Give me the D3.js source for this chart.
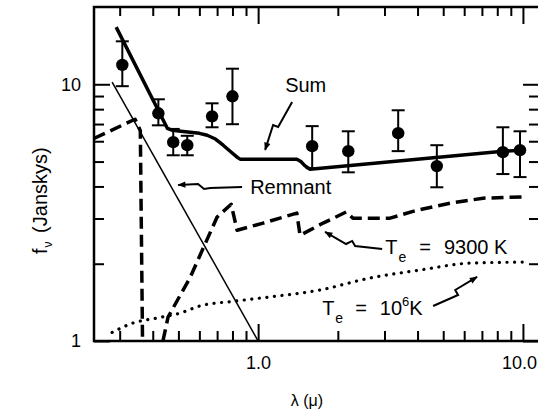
<!DOCTYPE html>
<html>
<head>
<meta charset="utf-8">
<script src="https://cdn.jsdelivr.net/npm/d3@7"></script>
<style>
  html, body { margin: 0; padding: 0; background: #fff; }
  svg { display: block; }
  text { font-family: "Liberation Sans", Arial, Helvetica, sans-serif; fill: #000; }
</style>
</head>
<body>
<svg id="chart" width="538" height="415"></svg>
<script>
// Observed flux densities (wavelength in microns, flux in Janskys) with error bars
const wavelength = [0.307, 0.42, 0.478, 0.54, 0.67, 0.80, 1.6, 2.19, 3.38, 4.73, 8.4, 9.75];
const flux       = [11.9, 7.71, 5.95, 5.79, 7.5, 8.98, 5.74, 5.49, 6.45, 4.80, 5.44, 5.54];
const fluxLow    = [9.83, 6.92, 5.29, 5.29, 6.8, 6.99, 4.71, 4.54, 5.49, 3.97, 4.47, 4.35];
const fluxHigh   = [14.7, 8.74, 6.7, 6.3, 8.43, 11.5, 6.87, 6.56, 7.92, 5.79, 6.8, 6.56];

// Model components: [wavelength, flux]
const sumModel = [[0.291, 16.7], [0.454, 6.74], [0.470, 6.64], [0.500, 6.57], [0.554, 6.50],
  [0.600, 6.44], [0.642, 6.33], [0.690, 6.12], [0.738, 5.79], [0.790, 5.45], [0.833, 5.20],
  [0.855, 5.11], [1.40, 5.11], [1.45, 5.0], [1.50, 4.82], [1.57, 4.67],
  [8.41, 5.49], [10.0, 5.54]];
const remnantModel = [[0.281, 10.2], [1.0, 1.0]];
const hot9300Blue = [[0.24, 6.15], [0.343, 7.31], [0.359, 6.6], [0.366, 1.0]];
const hot9300Red = [[0.437, 1.0], [0.457, 1.24], [0.554, 1.77], [0.700, 3.04], [0.791, 3.41],
  [0.833, 2.70], [1.045, 2.88], [1.40, 3.15], [1.44, 2.58], [1.76, 2.88], [2.15, 3.18],
  [2.28, 3.01], [3.15, 3.01], [3.98, 3.23], [5.30, 3.44], [7.07, 3.60], [9.92, 3.64]];
const hot1e6 = [[0.281, 1.08], [0.337, 1.175], [0.416, 1.23], [0.508, 1.285], [0.604, 1.37],
  [0.819, 1.43], [1.08, 1.48], [1.71, 1.58], [2.65, 1.76], [4.09, 1.89], [6.31, 2.01], [10.0, 2.03]];

// Axis ticks
const xMajorTicks = [1, 10];
const xTickLabels = ["1.0", "10.0"];
const xMinorTicks = [0.3, 0.4, 0.5, 0.6, 0.7, 0.8, 0.9, 2, 3, 4, 5, 6, 7, 8, 9];
const yMajorTicks = [1, 10];
const yTickLabels = ["1", "10"];
const yMinorTicks = [2, 3, 4, 5, 6, 7, 8, 9];

// Annotation callouts (data coordinates): label anchor and zig-zag pointer ending at the tip
const sumLabelAt = [1.265, 9.33];
const sumPointer = [[1.344, 8.53], [1.190, 6.82], [1.139, 6.94], [1.063, 5.55]];
const remnantLabelAt = [0.933, 3.74];
const remnantPointer = [[0.870, 3.98], [0.659, 3.945], [0.625, 3.91], [0.593, 4.09], [0.499, 4.05]];
const label9300At = [3.02, 2.18];
const pointer9300 = [[2.94, 2.283], [2.325, 2.345], [2.265, 2.453], [2.149, 2.387], [1.79, 2.66]];
const label1e6At = [1.745, 1.263];
const pointer1e6 = [[4.58, 1.369], [5.69, 1.511], [5.55, 1.58], [6.71, 1.776]];

const svg = d3.select("#chart");
const frameLeft = 94, frameRight = 540, frameTop = 7, frameBottom = 341;

const x = d3.scaleLog().domain([0.24, 11.6]).range([frameLeft, frameRight]);
const y = d3.scaleLog().domain([1, 20]).range([frameBottom, frameTop]);

const defs = svg.append("defs");
defs.append("clipPath").attr("id", "plotClip")
  .append("rect").attr("x", frameLeft).attr("y", frameTop)
  .attr("width", frameRight - frameLeft).attr("height", frameBottom - frameTop);

const marker = defs.append("marker")
  .attr("id", "arrowHead").attr("viewBox", "0 0 10 10")
  .attr("refX", 9).attr("refY", 5)
  .attr("markerWidth", 10).attr("markerHeight", 8)
  .attr("markerUnits", "userSpaceOnUse")
  .attr("orient", "auto");
marker.append("path").attr("d", "M0,1 L10,5 L0,9 Z").attr("fill", "#000");

// Frame
svg.append("path")
  .attr("d", `M${frameRight},${frameTop} H${frameLeft} V${frameBottom} H${frameRight}`)
  .attr("fill", "none").attr("stroke", "#000").attr("stroke-width", 2.5);

function styleAxis(g) {
  g.select(".domain").remove();
  g.selectAll(".tick line").attr("stroke", "#000").attr("stroke-width", 2);
  g.selectAll(".tick text").attr("font-size", 18).attr("fill", "#000")
    .attr("font-family", '"Liberation Sans", Arial, sans-serif');
}

// Bottom axis
svg.append("g").attr("transform", `translate(0,${frameBottom})`)
  .call(d3.axisBottom(x).tickValues(xMajorTicks).tickSize(-17).tickPadding(15)
    .tickFormat((d, i) => xTickLabels[i]))
  .call(styleAxis)
  .call(g => g.selectAll(".tick text").attr("dx", d => d === 10 ? -4 : 0));
svg.append("g").attr("transform", `translate(0,${frameBottom})`)
  .call(d3.axisBottom(x).tickValues(xMinorTicks).tickSize(-10).tickFormat(""))
  .call(styleAxis);
// Top axis
svg.append("g").attr("transform", `translate(0,${frameTop})`)
  .call(d3.axisTop(x).tickValues(xMajorTicks).tickSize(-17).tickFormat(""))
  .call(styleAxis);
svg.append("g").attr("transform", `translate(0,${frameTop})`)
  .call(d3.axisTop(x).tickValues(xMinorTicks).tickSize(-9).tickFormat(""))
  .call(styleAxis);
// Left axis
svg.append("g").attr("transform", `translate(${frameLeft},0)`)
  .call(d3.axisLeft(y).tickValues(yMajorTicks).tickSize(-16).tickPadding(13)
    .tickFormat((d, i) => yTickLabels[i]))
  .call(styleAxis);
svg.append("g").attr("transform", `translate(${frameLeft},0)`)
  .call(d3.axisLeft(y).tickValues(yMinorTicks).tickSize(-10).tickFormat(""))
  .call(styleAxis);
// Right axis
svg.append("g").attr("transform", `translate(${frameRight},0)`)
  .call(d3.axisRight(y).tickValues(yMajorTicks).tickSize(-17).tickFormat(""))
  .call(styleAxis);
svg.append("g").attr("transform", `translate(${frameRight},0)`)
  .call(d3.axisRight(y).tickValues(yMinorTicks).tickSize(-11).tickFormat(""))
  .call(styleAxis);

// Axis titles
const yTitle = svg.append("text")
  .attr("transform", `translate(47,254) rotate(-90)`)
  .attr("font-size", 20);
yTitle.append("tspan").text("f");
yTitle.append("tspan").attr("font-size", 12).attr("dx", 1).attr("dy", 5).text("ν");
yTitle.append("tspan").attr("dy", -5).attr("dx", 3).text(" (Janskys)");

svg.append("text").attr("x", 307).attr("y", 406)
  .attr("text-anchor", "middle").attr("font-size", 16).text("λ (μ)");

// Model curves
const plot = svg.append("g").attr("clip-path", "url(#plotClip)");
const lineLin = d3.line().x(d => x(d[0])).y(d => y(d[1]));
const lineSmooth = d3.line().x(d => x(d[0])).y(d => y(d[1])).curve(d3.curveMonotoneX);

plot.append("path").datum(remnantModel).attr("d", lineLin)
  .attr("fill", "none").attr("stroke", "#000").attr("stroke-width", 1.5);

[hot9300Blue, hot9300Red].forEach(seg => {
  plot.append("path").datum(seg).attr("d", lineLin)
    .attr("fill", "none").attr("stroke", "#000").attr("stroke-width", 3.5)
    .attr("stroke-dasharray", "12,6").attr("stroke-linejoin", "round");
});

plot.append("path").datum(hot1e6).attr("d", lineSmooth)
  .attr("fill", "none").attr("stroke", "#000").attr("stroke-width", 3.2)
  .attr("stroke-linecap", "round").attr("stroke-dasharray", "0.1,7.5");

plot.append("path").datum(sumModel).attr("d", lineLin)
  .attr("fill", "none").attr("stroke", "#000").attr("stroke-width", 3.5)
  .attr("stroke-linejoin", "round");

// Observations with error bars
const obs = wavelength.map((w, i) => ({ w, f: flux[i], lo: fluxLow[i], hi: fluxHigh[i] }));
const ob = plot.selectAll("g.obs").data(obs).join("g").attr("class", "obs");
ob.append("line")
  .attr("x1", d => x(d.w)).attr("x2", d => x(d.w))
  .attr("y1", d => y(d.lo)).attr("y2", d => y(d.hi))
  .attr("stroke", "#000").attr("stroke-width", 2);
ob.append("line")
  .attr("x1", d => x(d.w) - 6.5).attr("x2", d => x(d.w) + 6.5)
  .attr("y1", d => y(d.hi)).attr("y2", d => y(d.hi))
  .attr("stroke", "#000").attr("stroke-width", 2);
ob.append("line")
  .attr("x1", d => x(d.w) - 6.5).attr("x2", d => x(d.w) + 6.5)
  .attr("y1", d => y(d.lo)).attr("y2", d => y(d.lo))
  .attr("stroke", "#000").attr("stroke-width", 2);
ob.append("circle")
  .attr("cx", d => x(d.w)).attr("cy", d => y(d.f)).attr("r", 6.2)
  .attr("fill", "#000");

// Callouts
[sumPointer, remnantPointer, pointer9300, pointer1e6].forEach(p => {
  svg.append("path").datum(p).attr("d", lineLin)
    .attr("fill", "none").attr("stroke", "#000").attr("stroke-width", 2)
    .attr("stroke-linejoin", "miter")
    .attr("marker-end", "url(#arrowHead)");
});

svg.append("text").attr("x", x(sumLabelAt[0])).attr("y", y(sumLabelAt[1]))
  .attr("font-size", 20).text("Sum");
svg.append("text").attr("x", x(remnantLabelAt[0])).attr("y", y(remnantLabelAt[1]))
  .attr("font-size", 20).text("Remnant");

const t9300 = svg.append("text").attr("x", x(label9300At[0])).attr("y", y(label9300At[1]))
  .attr("font-size", 20);
t9300.append("tspan").text("T");
t9300.append("tspan").attr("font-size", 14).attr("dx", 1).attr("dy", 8).text("e");
t9300.append("tspan").attr("dx", 13).attr("dy", -8).text("=");
t9300.append("tspan").attr("dx", 13).text("9300 K");

const t1e6 = svg.append("text").attr("x", x(label1e6At[0])).attr("y", y(label1e6At[1]))
  .attr("font-size", 20);
t1e6.append("tspan").text("T");
t1e6.append("tspan").attr("font-size", 14).attr("dx", 1).attr("dy", 8).text("e");
t1e6.append("tspan").attr("dx", 12).attr("dy", -8).text("=");
t1e6.append("tspan").attr("dx", 13).text("10");
t1e6.append("tspan").attr("font-size", 13).attr("dy", -9).text("6");
t1e6.append("tspan").attr("dy", 9).text("K");
</script>
</body>
</html>
